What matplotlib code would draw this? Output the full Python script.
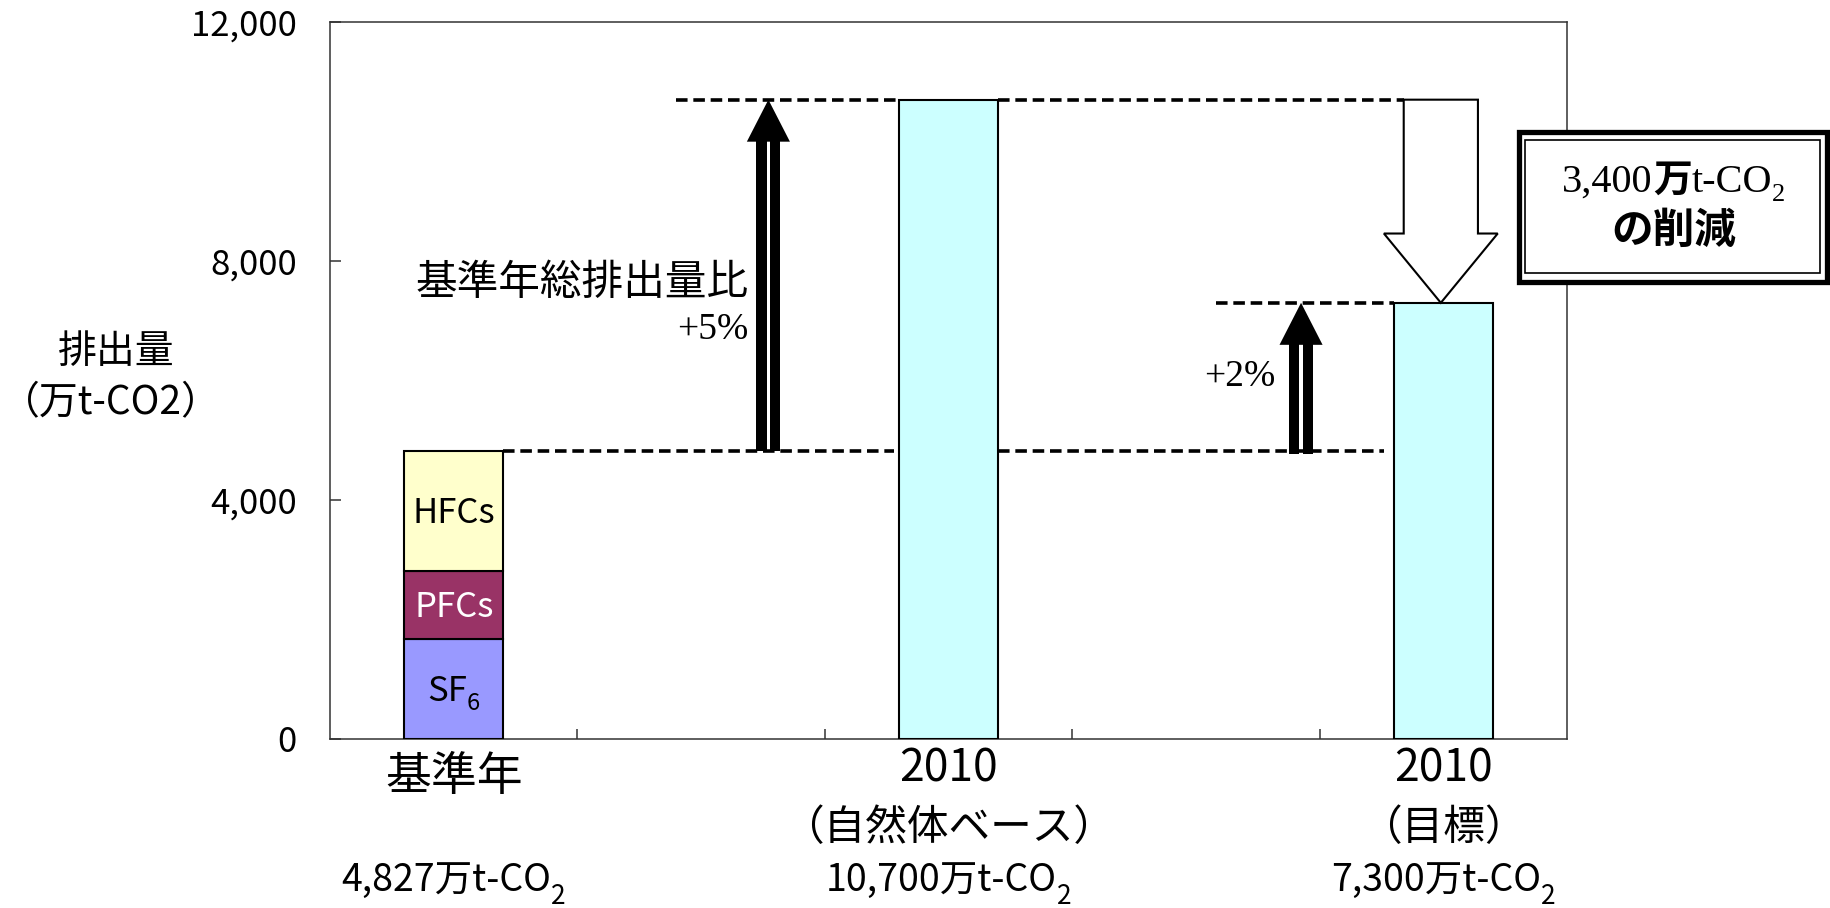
import numpy as np
import matplotlib
matplotlib.use('Agg')
import matplotlib.pyplot as plt
from matplotlib.patches import Rectangle, Polygon
from matplotlib import transforms

plt.rcParams['font.family'] = ['Noto Sans CJK JP', 'DejaVu Sans']

# データ (万t-CO2)
cat_pos = [0, 2, 4]
cat_top = ['基準年', '2010', '2010']
cat_mid = ['', '（自然体ベース）', '（目標）']
cat_total = ['4,827万t-CO', '10,700万t-CO', '7,300万t-CO']

gas_names = [('SF', '6'), ('PFCs', ''), ('HFCs', '')]
gas_values = [1670, 1140, 2017]
gas_colors = ['#9999FF', '#993366', '#FFFFCC']
gas_text_colors = ['black', 'white', 'black']

base_total = sum(gas_values)
bau_2010 = 10700
target_2010 = 7300
reduction = bau_2010 - target_2010

W, H = 1830, 908
fig = plt.figure(figsize=(W / 100, H / 100), dpi=100)
ax = fig.add_axes([330 / W, 1 - 739 / H, (1567 - 330) / W, (739 - 22) / H])
ax.set_xlim(-0.5, 4.5)
ax.set_ylim(0, 12000)
ident = transforms.IdentityTransform()
serif = 'Liberation Serif'


def rich_text(cx, by, pieces, zorder=11):
    # pieces: (文字列, 書式, 縦ずれpx) を横に並べ、中央揃え (ピクセル座標, y上向き)
    arts = []
    for s, kw, dy in pieces:
        t = fig.text(0, 0, s, ha='left', va='baseline', transform=ident, zorder=zorder, **kw)
        arts.append((t, dy))
    r = fig.canvas.get_renderer()
    widths = [t.get_window_extent(r).width for t, _ in arts]
    x = cx - sum(widths) / 2
    for (t, dy), w in zip(arts, widths):
        t.set_position((x, by + dy))
        x += w


# 軸
ax.set_yticks([0, 4000, 8000, 12000])
ax.set_yticklabels([f'{v:,}' for v in [0, 4000, 8000, 12000]], fontsize=25)
ax.set_xticks([0.5, 1.5, 2.5, 3.5])
ax.set_xticklabels([])
ax.tick_params(axis='y', direction='in', length=8, width=1.1, pad=24, color='#333333')
ax.tick_params(axis='x', direction='in', length=7, width=1.1, color='#333333')
for s in ax.spines.values():
    s.set_linewidth(1.1)
    s.set_color('#333333')

# 棒グラフ
bw = 0.4
bottom = 0
labels_in_bar = []
for (name, sub), v, c, tc in zip(gas_names, gas_values, gas_colors, gas_text_colors):
    ax.bar(cat_pos[0], v, bw, bottom=bottom, color=c, edgecolor='black', linewidth=1.5, zorder=3)
    labels_in_bar.append((name, sub, bottom + v / 2, tc))
    bottom += v
ax.bar(cat_pos[1:], [bau_2010, target_2010], bw, color='#CCFFFF', edgecolor='black', linewidth=1.5, zorder=3)

# 破線
dash = dict(color='black', linewidth=2.6, linestyle=(0, (3.2, 1.6)), zorder=2)
ax.plot([0.2, 1.78], [base_total, base_total], **dash)
ax.plot([2.2, 3.76], [base_total, base_total], **dash)
ax.plot([0.9, 1.8], [bau_2010, bau_2010], **dash)
ax.plot([2.2, 3.84], [bau_2010, bau_2010], **dash)
ax.plot([3.08, 3.8], [target_2010, target_2010], **dash)

# 二重線の矢印
sx = 1 / 247.0
sy = 12000 / 717.0
def double_arrow(xc, y0, y1):
    head = 42 * sy
    for a, b in [(-12, -1.8), (1.8, 12)]:
        ax.add_patch(Rectangle((xc + a * sx, y0), (b - a) * sx, y1 - head - y0 + 20,
                               facecolor='black', edgecolor='none', zorder=5))
    ax.add_patch(Polygon([(xc - 21.5 * sx, y1 - head), (xc + 21.5 * sx, y1 - head), (xc, y1)],
                         closed=True, facecolor='black', edgecolor='none', zorder=5))

double_arrow(1.272, base_total, bau_2010)
double_arrow(3.425, base_total - 60, target_2010)

# 白抜き矢印
xc = 3.99
head_base = 8460
ax.add_patch(Polygon([(xc - 0.15, bau_2010), (xc + 0.15, bau_2010), (xc + 0.15, head_base),
                      (xc + 0.23, head_base), (xc, target_2010), (xc - 0.23, head_base),
                      (xc - 0.15, head_base)],
                     closed=True, facecolor='white', edgecolor='black', linewidth=1.5, zorder=5))

# 注記
ax.text(1.19, 7620, '基準年総排出量比', ha='right', va='center', fontsize=30, zorder=6)
ax.text(1.19, 6850, '+5%', ha='right', va='center', fontsize=27, family=serif, zorder=6)
ax.text(3.32, 6060, '+2%', ha='right', va='center', fontsize=27, family=serif, zorder=6)

# 削減量の枠
def px_rect(x0, y0, x1, y1, lw):
    return Rectangle((x0 / W, 1 - y1 / H), (x1 - x0) / W, (y1 - y0) / H,
                     transform=fig.transFigure, facecolor='white', edgecolor='black',
                     linewidth=lw, zorder=10)
fig.add_artist(px_rect(1518.5, 131.5, 1826.5, 281.5, 3.8))
fig.add_artist(px_rect(1525, 140, 1820, 273, 1.2))
rich_text(1674, H - 192, [(f'{reduction:,}', dict(fontsize=29, family=serif), 0),
                          ('万', dict(fontsize=28, fontweight='bold'), 0),
                          ('t-CO', dict(fontsize=29, family=serif), 0),
                          ('2', dict(fontsize=19, family=serif), -9)])
fig.text(1674 / W, 1 - 231 / H, 'の削減', ha='center', va='center', fontsize=30,
         fontweight='bold', zorder=11)

# カテゴリラベル
tr = transforms.blended_transform_factory(ax.transData, fig.transFigure)
for x, t, m, v in zip(cat_pos, cat_top, cat_mid, cat_total):
    if m:
        ax.text(x, 1 - 769 / H, t, ha='center', va='center', fontsize=32, transform=tr)
        ax.text(x, 1 - 829 / H, m, ha='center', va='center', fontsize=30, transform=tr)
    else:
        ax.text(x, 1 - 777 / H, t, ha='center', va='center', fontsize=33, transform=tr)
    cx = ax.transData.transform((x, 0))[0]
    rich_text(cx, H - 891, [(v, dict(fontsize=27), 0), ('2', dict(fontsize=19), -13)])

# 棒の中のガス名
for name, sub, yc, tc in labels_in_bar:
    cx, cy = ax.transData.transform((cat_pos[0], yc))
    pieces = [(name, dict(fontsize=25, color=tc), 0)]
    if sub:
        pieces.append((sub, dict(fontsize=17, color=tc), -9))
    rich_text(cx, cy - 12, pieces, zorder=4)

# 縦軸ラベル
fig.text(116 / W, 1 - 352 / H, '排出量', ha='center', va='center', fontsize=28)
fig.text(111 / W, 1 - 403 / H, '（万t-CO2）', ha='center', va='center', fontsize=28)

fig.savefig('out.png', dpi=100)
